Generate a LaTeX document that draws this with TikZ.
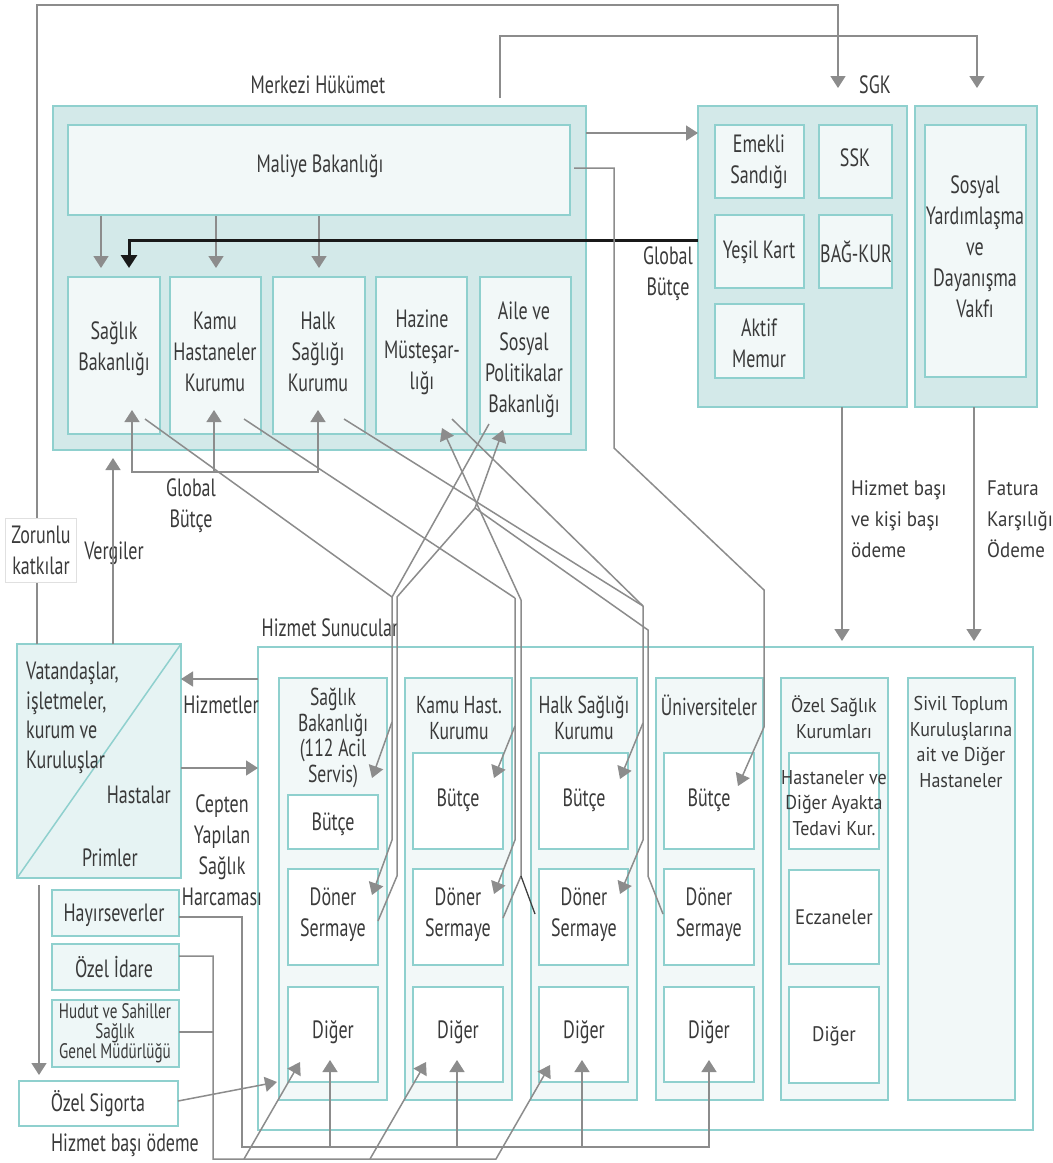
\documentclass[tikz,border=0pt]{standalone}
\usepackage{fontspec}
\setmainfont{PT Sans}[FakeStretch=0.72]
\newfontfamily\wfont{PT Sans}[FakeStretch=0.9]
\usetikzlibrary{arrows.meta}
\definecolor{tline}{HTML}{8FD0CE}
\definecolor{tdark}{HTML}{D3E9E9}
\definecolor{tlight}{HTML}{F2F8F8}
\definecolor{tmid}{HTML}{E6F3F3}
\definecolor{tsoft}{HTML}{EEF7F7}
\definecolor{txt}{HTML}{3A3A3A}
\definecolor{cgrey}{HTML}{8C8C8C}
\newcommand\bx[6]{\node[#1, anchor=north west, minimum width={(#5)-(#3)}, minimum height={(#6)-(#4)}, inner sep=0pt, outer sep=0pt] (#2) at (#3,#4) {};}
\tikzset{
  obox/.style={draw=tline, fill=tdark, line width=2pt},
  ibox/.style={draw=tline, fill=tlight, line width=1.8pt},
  wbox/.style={draw=tline, fill=white, line width=1.8pt},
  vbox/.style={draw=tline, fill=tmid, line width=1.8pt},
  sbox/.style={draw=tline, fill=tsoft, line width=1.8pt},
  lbl/.style={text=txt, font=\fontsize{25}{31}\selectfont, align=center, inner sep=0pt},
  hlbl/.style={text=txt, font=\fontsize{24.5}{25.5}\selectfont, align=center, inner sep=0pt},
  wlbl/.style={text=txt, font=\wfont\fontsize{20}{25.5}\selectfont, align=center, inner sep=0pt},
  wlbltall/.style={text=txt, font=\wfont\fontsize{21}{31}\selectfont, align=left, inner sep=0pt, anchor=west},
  conn/.style={draw=cgrey, line width=1.5pt, line join=miter},
  arr/.style={conn, -{Triangle[length=12pt,width=15pt]}},
  blk/.style={draw=black!90, line width=3pt, -{Triangle[length=13pt,width=16pt]}},
}
\begin{document}
\begin{tikzpicture}[x=1pt,y=-1pt]
\useasboundingbox[fill=white] (0,0) rectangle (1053,1163);

% ---------- Merkezi Hukumet ----------
\bx{obox}{mh}{53}{106}{586}{450}
\bx{ibox}{mb}{68}{125}{570}{215}
\bx{ibox}{sb}{68}{277}{160}{434}
\bx{ibox}{khk}{170}{277}{261}{434}
\bx{ibox}{hsk}{273}{277}{365}{434}
\bx{ibox}{hm}{376}{277}{467}{434}
\bx{ibox}{asp}{480}{277}{571}{434}

% ---------- SGK ----------
\bx{obox}{sgk}{698}{106}{907}{407}
\bx{ibox}{es}{715}{125}{804}{198}
\bx{ibox}{ssk}{819}{125}{892}{198}
\bx{ibox}{yk}{715}{215}{804}{288}
\bx{ibox}{bk}{819}{215}{892}{288}
\bx{ibox}{am}{715}{304}{804}{378}
\bx{obox}{syv}{915}{106}{1037}{407}
\bx{ibox}{syvi}{925}{125}{1026}{377}

% ---------- Hizmet Sunucular ----------
\bx{wbox}{hs}{258}{647}{1033}{1130}
\bx{ibox}{c1}{279}{678}{387}{1100}
\bx{ibox}{c2}{405}{678}{512}{1100}
\bx{ibox}{c3}{531}{678}{637}{1100}
\bx{ibox}{c4}{656}{678}{763}{1100}
\bx{ibox}{c5}{781}{678}{888}{1100}
\bx{ibox}{c6}{908}{678}{1015}{1100}
\bx{wbox}{b1}{288}{795}{378}{849}
\bx{wbox}{d1}{288}{869}{378}{965}
\bx{wbox}{g1}{288}{987}{378}{1082}
\bx{wbox}{b2}{413}{753}{503}{849}
\bx{wbox}{d2}{413}{869}{503}{965}
\bx{wbox}{g2}{413}{987}{503}{1082}
\bx{wbox}{b3}{539}{753}{628}{849}
\bx{wbox}{d3}{539}{869}{628}{965}
\bx{wbox}{g3}{539}{987}{628}{1082}
\bx{wbox}{b4}{664}{753}{754}{849}
\bx{wbox}{d4}{664}{869}{754}{965}
\bx{wbox}{g4}{664}{987}{754}{1082}
\bx{wbox}{h5}{789}{753}{879}{849}
\bx{wbox}{e5}{789}{870}{879}{964}
\bx{wbox}{g5}{789}{987}{879}{1083}

% ---------- left side ----------
\bx{vbox}{vat}{17}{644}{181}{878}
\draw[tline, line width=1.5pt] (vat.south west) -- (vat.north east);
\bx{sbox}{hay}{52}{890}{179}{936}
\bx{sbox}{oi}{52}{944}{179}{990}
\bx{sbox}{hud}{52}{1000}{179}{1067}
\bx{wbox}{os}{19}{1081}{178}{1126}

% ---------- texts ----------
\node[lbl] (tmh) at (318,85) {Merkezi Hükümet};
\node[lbl] (tsgk) at (875,85) {SGK};
\node[lbl] (tmb) at (320,166) {Maliye Bakanlığı};
\node[lbl] (tsb) at (114,349) {Sağlık\\Bakanlığı};
\node[lbl] (tkhk) at (215,352) {Kamu\\Hastaneler\\Kurumu};
\node[lbl] (thsk) at (318,352) {Halk\\Sağlığı\\Kurumu};
\node[lbl] (thm) at (422,352) {Hazine\\Müsteşar-\\lığı};
\node[lbl] (tasp) at (524,360) {Aile ve\\Sosyal\\Politikalar\\Bakanlığı};
\node[lbl] (tgb1) at (668,274) {Global\\Bütçe};
\node[lbl] (tes) at (759,162) {Emekli\\Sandığı};
\node[lbl] (tssk) at (855,158) {SSK};
\node[lbl] (tyk) at (759,252) {Yeşil Kart};
\node[lbl] (tbk) at (856,252) {BAĞ-KUR};
\node[lbl] (tam) at (759,343) {Aktif\\Memur};
\node[lbl] (tsyv) at (975,247) {Sosyal\\Yardımlaşma\\ve\\Dayanışma\\Vakfı};
\node[lbl] (tgb2) at (191,506) {Global\\Bütçe};
\node[lbl] (tverg) at (114,553) {Vergiler};
\node[wlbltall] (thb) at (851,519) {Hizmet başı\\ve kişi başı\\ödeme};
\node[wlbltall] (tfat) at (987,519) {Fatura\\Karşılığı\\Ödeme};
\node[lbl] (ths) at (330,628) {Hizmet Sunucular};
\node[lbl, align=left, anchor=west, font=\fontsize{25}{29.5}\selectfont] (tvat) at (26,718) {Vatandaşlar,\\işletmeler,\\kurum ve\\Kuruluşlar};
\node[lbl, anchor=east] (thast) at (171,795) {Hastalar};
\node[lbl] (tprim) at (110,858) {Primler};
\node[lbl] (thizm) at (221,705) {Hizmetler};
\node[lbl] (tcep) at (222,850) {Cepten\\Yapılan\\Sağlık\\Harcaması};
\node[hlbl] (tc1) at (333,738) {Sağlık\\Bakanlığı\\(112 Acil\\Servis)};
\node[hlbl] (tc2) at (459,718) {Kamu Hast.\\Kurumu};
\node[hlbl] (tc3) at (584,718) {Halk Sağlığı\\Kurumu};
\node[hlbl] (tc4) at (709,705) {Üniversiteler};
\node[wlbl] (tc5) at (834,717) {Özel Sağlık\\Kurumları};
\node[wlbl] (tc6) at (961,742) {Sivil Toplum\\Kuruluşlarına\\ait ve Diğer\\Hastaneler};
\node[lbl] at (333,824) {Bütçe};
\node[lbl] at (458,800) {Bütçe};
\node[lbl] at (584,800) {Bütçe};
\node[lbl] at (709,800) {Bütçe};
\node[lbl] at (333,915) {Döner\\Sermaye};
\node[lbl] at (458,915) {Döner\\Sermaye};
\node[lbl] at (584,915) {Döner\\Sermaye};
\node[lbl] at (709,915) {Döner\\Sermaye};
\node[lbl] at (333,1032) {Diğer};
\node[lbl] at (458,1032) {Diğer};
\node[lbl] at (584,1032) {Diğer};
\node[lbl] at (709,1032) {Diğer};
\node[wlbl] at (834,803) {Hastaneler ve\\Diğer Ayakta\\Tedavi Kur.};
\node[wlbl, font=\wfont\fontsize{21}{25.5}\selectfont] at (834,917) {Eczaneler};
\node[wlbl, font=\wfont\fontsize{21}{25.5}\selectfont] at (834,1036) {Diğer};
\node[lbl] at (114,915) {Hayırseverler};
\node[lbl] at (114,967) {Özel İdare};
\node[lbl, font=\fontsize{21}{20}\selectfont] at (115,1033) {Hudut ve Sahiller\\Sağlık\\Genel Müdürlüğü};
\node[lbl] at (98,1104) {Özel Sigorta};
\node[lbl] at (125,1145) {Hizmet başı ödeme};

% ---------- coordinates ----------
\coordinate (vtop) at (37,644);
\coordinate (k1) at (37,5);
\coordinate (k2) at (838,5);
\coordinate (sgkin) at (838,88);
\coordinate (m1) at (500,98);
\coordinate (m2) at (500,36);
\coordinate (m3) at (977,36);
\coordinate (syvin) at (977,88);

% ---------- top connectors ----------
\draw[arr] (vtop) -- (k1) -- (k2) -- (sgkin);
\draw[arr] (m1) -- (m2) -- (m3) -- (syvin);
\draw[arr] (586,133) -- (sgk.west |- 0,133);
\draw[arr] (101,216) -- (101,268);
\draw[arr] (216,216) -- (216,268);
\draw[arr] (319,216) -- (319,268);
\draw[blk] (sgk.west |- 0,240) -- (129,240) -- (129,268);

% lower global budget
\draw[conn, {Triangle[length=12pt,width=15pt]}-{Triangle[length=12pt,width=15pt]}] (132,410) -- (132,472) -- (318,472) -- (318,410);
\draw[arr] (214,472) -- (214,410);
\draw[arr] (113,644) -- (113,458);

% SGK / SYV down
\draw[arr] (842,407) -- (842,641);
\draw[arr] (974,407) -- (974,641);

% Maliye -> Universiteler Butce
\draw[arr] (574,168) -- (614,168) -- (614,448) -- (764,590) -- (764,727) -- (738,786);

% Saglik Bakanligi -> column 1
\coordinate (j1) at (392,597);
\draw[conn] (145,419) -- (j1);
\draw[conn] (489,424) -- (j1);
\draw[arr] (j1) -- (392,840) -- (372,895);
\draw[arr] (392,722) -- (372,778);
% Doner -> Aile (arrow)
\coordinate (ja) at (475,508);
\draw[arr] (378,921) -- (397,876) -- (397,597) -- (ja) -- (503,430);
\draw[conn] (663,914) -- (648,876) -- (648,630) -- (ja);

% Kamu -> column 2
\coordinate (j2) at (515,598);
\draw[conn] (244,419) -- (j2);
\draw[arr] (j2) -- (515,840) -- (494,894);
\draw[arr] (515,726) -- (494,778);
% Doner -> Hazine
\draw[arr] (503,918) -- (521,876) -- (521,600) -- (442,428);
\draw[draw=black!75, line width=1.3pt] (521,876) -- (535,914);

% Halk -> column 3
\coordinate (j3) at (643,606);
\draw[conn] (344,419) -- (j3);
\draw[conn] (452,419) -- (j3);
\draw[arr] (j3) -- (643,840) -- (620,894);
\draw[arr] (643,723) -- (620,779);

% ---------- left side connectors ----------
\draw[arr] (hs.west |- 0,679) -- (vat.east |- 0,679);
\draw[arr] (vat.east |- 0,768) -- (hs.west |- 0,768);
\draw[arr] (39,885) -- (39,1075);
\draw[arr] (os.east |- 0,1101) -- (277,1082);

% Hayirseverler
\draw[arr] (hay.east |- 0,917) -- (242,917) -- (242,1147) -- (709,1147) -- (709,1060);
\draw[arr] (330,1147) -- (330,1060);
\draw[arr] (457,1147) -- (457,1060);
\draw[arr] (582,1147) -- (582,1060);
% Ozel Idare / Hudut
\draw[arr] (oi.east |- 0,956) -- (213,956) -- (213,1159) -- (496,1159) -- (550,1065);
\draw[conn] (hud.east |- 0,1032) -- (213,1032);
\draw[arr] (244,1159) -- (300,1062);
\draw[arr] (370,1159) -- (426,1062);

% Zorunlu katkilar label
\node[draw=black!12, fill=white, line width=0.8pt, minimum width=71pt, minimum height=64pt, inner sep=0pt, lbl] (zk) at (41,550) {Zorunlu\\katkılar};
\end{tikzpicture}
\end{document}
